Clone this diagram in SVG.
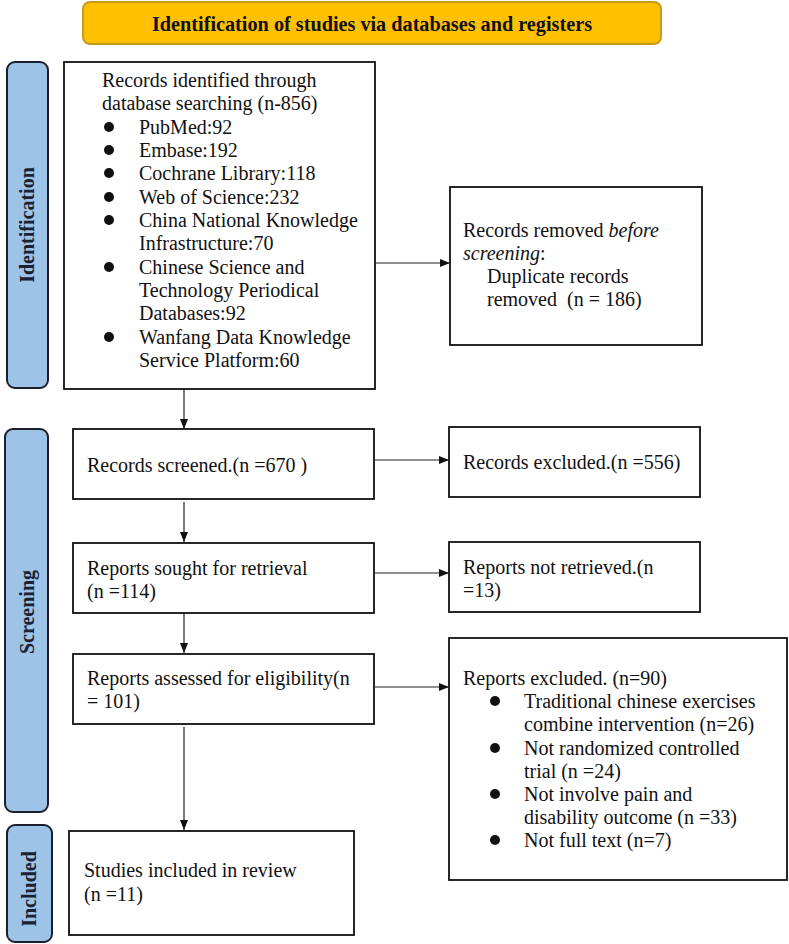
<svg xmlns="http://www.w3.org/2000/svg" width="789" height="944" viewBox="0 0 789 944">
<style>
.box{fill:#fff;stroke:#111;stroke-width:1.8}
.bar{fill:#9DC3E6;stroke:#1a1f2b;stroke-width:2}
.t{font-family:"Liberation Serif","Times New Roman",serif;font-size:20px;fill:#111;white-space:pre}
.lbl{font-family:"Liberation Serif","Times New Roman",serif;font-size:20px;font-weight:bold;fill:#1a2233}
.ttl{font-family:"Liberation Serif","Times New Roman",serif;font-size:21px;font-weight:bold;fill:#111}
.ln{stroke:#222;stroke-width:1.2;fill:none}
.dot{fill:#111}
</style>
<defs>
<marker id="ah" viewBox="0 0 10 10" refX="10" refY="5" markerWidth="10" markerHeight="10" markerUnits="userSpaceOnUse" orient="auto">
<path d="M0,1 L10,5 L0,9 z" fill="#111"/>
</marker>
</defs>
<g id="title">
<rect x="83" y="2" width="578" height="42" rx="7" fill="#FFC000" stroke="#C79A1E" stroke-width="2"/>
<text class="ttl" x="372" y="31" text-anchor="middle" textLength="440" lengthAdjust="spacingAndGlyphs">Identification of studies via databases and registers</text>
</g>
<g id="bar-identification">
<rect class="bar" x="7" y="62" width="41" height="326" rx="8"/>
<text class="lbl" transform="translate(34,225) rotate(-90)" text-anchor="middle">Identification</text>
</g>
<g id="bar-screening">
<rect class="bar" x="5" y="429" width="43" height="383" rx="8"/>
<text class="lbl" transform="translate(34,612) rotate(-90)" text-anchor="middle">Screening</text>
</g>
<g id="bar-included">
<rect class="bar" x="7" y="825" width="45" height="117" rx="8"/>
<text class="lbl" transform="translate(36,889) rotate(-90)" text-anchor="middle">Included</text>
</g>
<g id="records-identified">
<rect class="box" x="64" y="62" width="311" height="327"/>
<text class="t" x="102" y="87">Records identified through</text>
<text class="t" x="102" y="110">database searching (n-856)</text>
<circle class="dot" cx="109" cy="127" r="5"/><text class="t" x="139" y="134">PubMed:92</text>
<circle class="dot" cx="109" cy="150" r="5"/><text class="t" x="139" y="157">Embase:192</text>
<circle class="dot" cx="109" cy="173" r="5"/><text class="t" x="139" y="180">Cochrane Library:118</text>
<circle class="dot" cx="109" cy="197" r="5"/><text class="t" x="139" y="204">Web of Science:232</text>
<circle class="dot" cx="109" cy="220" r="5"/><text class="t" x="139" y="227">China National Knowledge</text>
<text class="t" x="139" y="250">Infrastructure:70</text>
<circle class="dot" cx="109" cy="267" r="5"/><text class="t" x="139" y="274">Chinese Science and</text>
<text class="t" x="139" y="297">Technology Periodical</text>
<text class="t" x="139" y="320">Databases:92</text>
<circle class="dot" cx="109" cy="337" r="5"/><text class="t" x="139" y="344">Wanfang Data Knowledge</text>
<text class="t" x="139" y="367">Service Platform:60</text>
</g>
<g id="records-removed">
<rect class="box" x="450" y="187" width="252" height="158"/>
<text class="t" x="463" y="237">Records removed <tspan font-style="italic">before</tspan></text>
<text class="t" x="463" y="260"><tspan font-style="italic">screening</tspan>:</text>
<text class="t" x="487" y="283">Duplicate records</text>
<text class="t" x="487" y="306">removed  (n = 186)</text>
</g>
<g id="records-screened">
<rect class="box" x="73" y="429" width="301" height="70"/>
<text class="t" x="87" y="472">Records screened.(n =670 )</text>
</g>
<g id="records-excluded">
<rect class="box" x="449" y="427" width="251" height="70"/>
<text class="t" x="463" y="469">Records excluded.(n =556)</text>
</g>
<g id="reports-sought">
<rect class="box" x="73" y="543" width="301" height="70"/>
<text class="t" x="87" y="575">Reports sought for retrieval</text>
<text class="t" x="87" y="598">(n =114)</text>
</g>
<g id="reports-not-retrieved">
<rect class="box" x="449" y="542" width="251" height="70"/>
<text class="t" x="463" y="574">Reports not retrieved.(n</text>
<text class="t" x="463" y="597">=13)</text>
</g>
<g id="reports-assessed">
<rect class="box" x="73" y="654" width="301" height="70"/>
<text class="t" x="87" y="685">Reports assessed for eligibility(n</text>
<text class="t" x="87" y="708">= 101)</text>
</g>
<g id="reports-excluded">
<rect class="box" x="449" y="638" width="338" height="242"/>
<text class="t" x="463" y="685">Reports excluded. (n=90)</text>
<circle class="dot" cx="495" cy="701" r="5"/><text class="t" x="524" y="708">Traditional chinese exercises</text>
<text class="t" x="524" y="731">combine intervention (n=26)</text>
<circle class="dot" cx="495" cy="748" r="5"/><text class="t" x="524" y="755">Not randomized controlled</text>
<text class="t" x="524" y="778">trial (n =24)</text>
<circle class="dot" cx="495" cy="794" r="5"/><text class="t" x="524" y="801">Not involve pain and</text>
<text class="t" x="524" y="824">disability outcome (n =33)</text>
<circle class="dot" cx="495" cy="840" r="5"/><text class="t" x="524" y="847">Not full text (n=7)</text>
</g>
<g id="studies-included">
<rect class="box" x="69" y="831" width="285" height="104"/>
<text class="t" x="84" y="877">Studies included in review</text>
<text class="t" x="84" y="901">(n =11)</text>
</g>
<g id="connectors">
<line class="ln" x1="375" y1="263" x2="450" y2="263" marker-end="url(#ah)"/>
<line class="ln" x1="184" y1="389" x2="184" y2="429" marker-end="url(#ah)"/>
<line class="ln" x1="374" y1="460" x2="449" y2="460" marker-end="url(#ah)"/>
<line class="ln" x1="184" y1="502" x2="184" y2="542" marker-end="url(#ah)"/>
<line class="ln" x1="374" y1="573" x2="449" y2="573" marker-end="url(#ah)"/>
<line class="ln" x1="184" y1="613" x2="184" y2="653" marker-end="url(#ah)"/>
<line class="ln" x1="374" y1="687" x2="449" y2="687" marker-end="url(#ah)"/>
<line class="ln" x1="184" y1="727" x2="184" y2="830" marker-end="url(#ah)"/>
</g>
</svg>
